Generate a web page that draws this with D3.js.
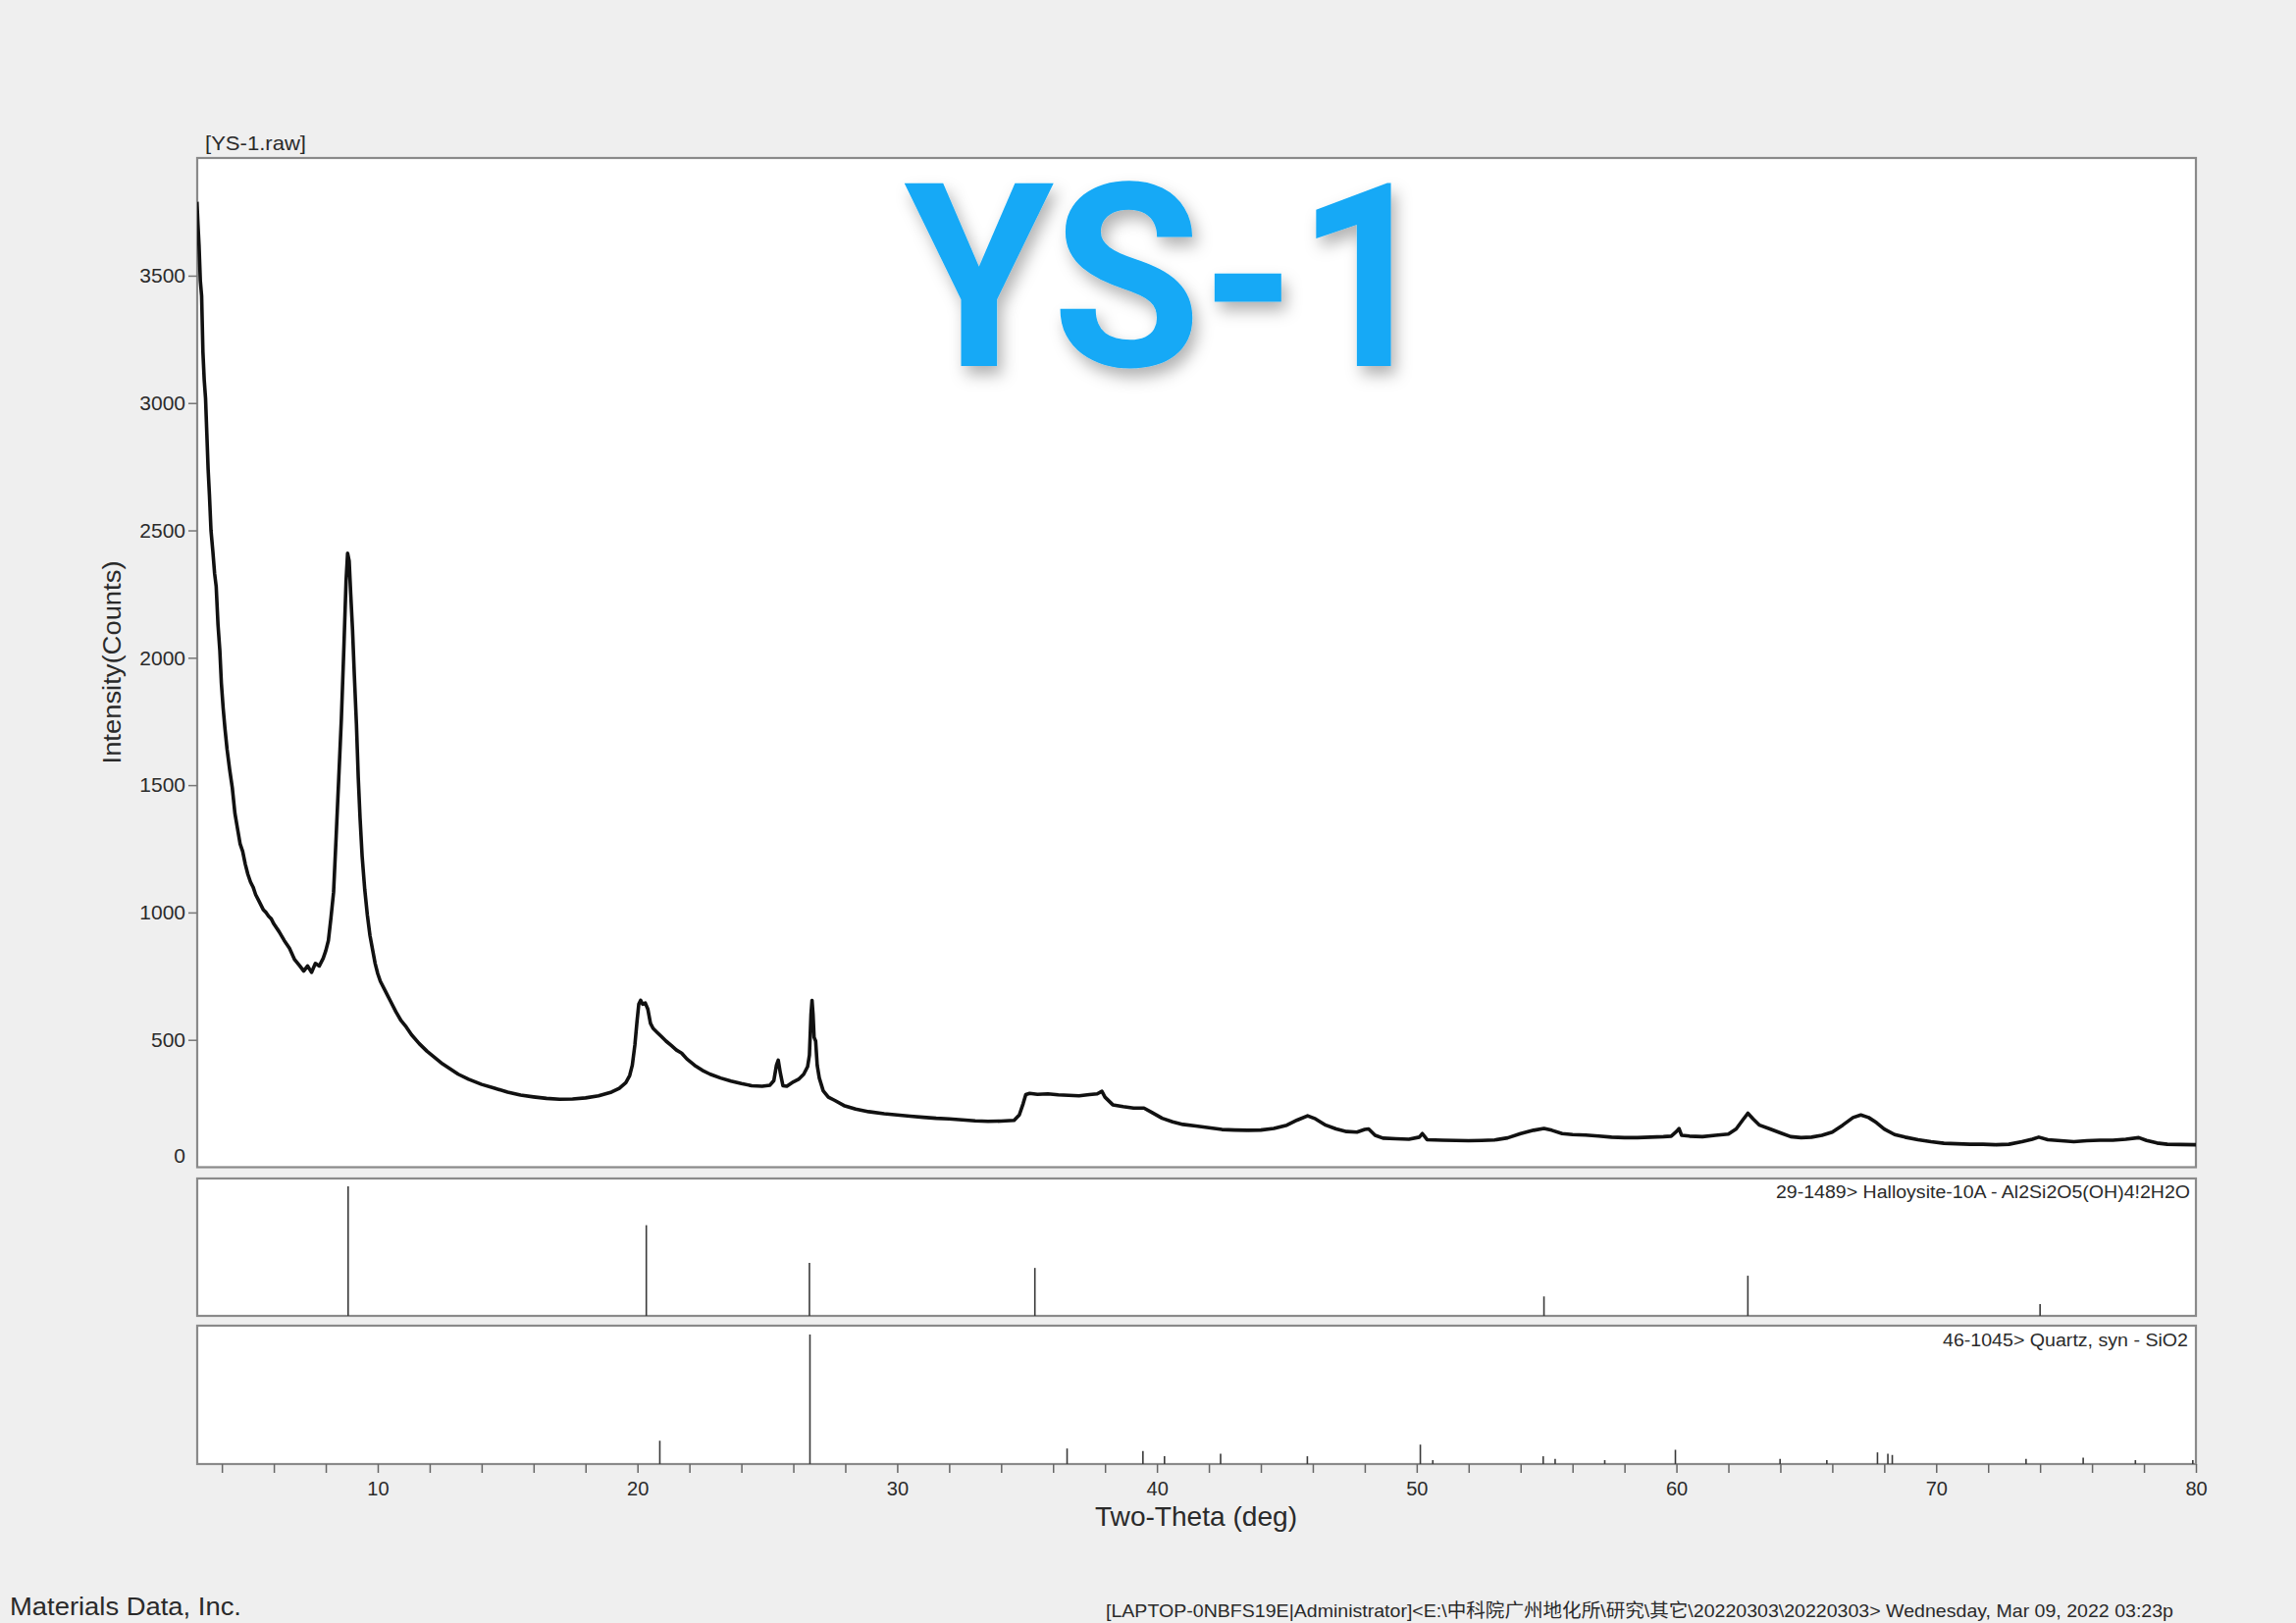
<!DOCTYPE html>
<html>
<head>
<meta charset="utf-8">
<script src="https://cdn.jsdelivr.net/npm/d3@7"></script>
<style>
  html, body { margin: 0; padding: 0; background: #efefef; }
  svg { display: block; }
  text { font-family: "Liberation Sans", Arial, "Noto Sans CJK SC", sans-serif; fill: #2a2a2a; }
</style>
</head>
<body>
<svg id="chart" width="2340" height="1654"></svg>
<script>
// ---------------- data ----------------
const scanTwoTheta = [3.04,3.08,3.12,3.17,3.22,3.27,3.32,3.37,3.42,3.47,3.52,3.58,3.65,3.72,3.78,3.85,3.92,3.98,4.05,4.12,4.2,4.3,4.4,4.5,4.6,4.7,4.8,4.9,5.0,5.1,5.2,5.3,5.4,5.5,5.6,5.7,5.8,5.9,6.0,6.2,6.4,6.6,6.8,7.0,7.15,7.3,7.45,7.6,7.75,7.9,8.0,8.1,8.2,8.3,8.4,8.5,8.6,8.7,8.78,8.84,8.9,8.96,9.03,9.1,9.18,9.25,9.32,9.4,9.5,9.6,9.7,9.8,9.9,10.0,10.1,10.3,10.5,10.7,10.9,11.1,11.3,11.6,11.9,12.2,12.5,12.8,13.1,13.5,14.0,14.5,15.0,15.5,16.0,16.5,17.0,17.5,18.0,18.5,19.0,19.3,19.55,19.7,19.8,19.9,19.98,20.05,20.12,20.2,20.3,20.4,20.5,20.6,20.75,20.9,21.1,21.3,21.5,21.7,21.9,22.2,22.5,22.8,23.2,23.6,24.0,24.4,24.8,25.1,25.25,25.35,25.42,25.5,25.6,25.75,26.0,26.2,26.4,26.55,26.62,26.68,26.72,26.76,26.8,26.86,26.92,27.0,27.15,27.35,27.6,27.95,28.4,28.9,29.5,30.0,30.5,31.0,31.5,32.0,32.5,33.0,33.5,34.0,34.5,34.7,34.85,34.95,35.1,35.4,35.8,36.2,36.6,37.0,37.4,37.7,37.88,38.0,38.3,38.7,39.1,39.5,39.8,40.2,40.6,41.0,41.5,42.0,42.5,43.0,43.5,44.0,44.5,45.0,45.4,45.8,46.1,46.5,46.9,47.3,47.7,48.0,48.15,48.4,48.7,49.2,49.7,50.1,50.22,50.4,51.0,51.5,52.0,52.5,53.0,53.5,54.0,54.5,54.9,55.2,55.6,56.0,56.5,57.0,57.5,58.0,58.5,59.0,59.5,59.8,60.0,60.1,60.2,60.5,61.0,61.5,62.0,62.3,62.55,62.75,62.95,63.2,63.6,64.0,64.4,64.8,65.2,65.6,66.0,66.4,66.8,67.1,67.4,67.7,68.0,68.4,68.8,69.3,69.8,70.3,70.8,71.3,71.8,72.3,72.8,73.3,73.7,73.95,74.3,74.8,75.3,75.8,76.3,76.8,77.3,77.8,78.1,78.5,78.9,79.4,80.0];
const scanCounts = [3790,3700,3620,3480,3420,3200,3090,3020,2880,2740,2640,2500,2420,2330,2280,2130,2030,1900,1800,1720,1640,1560,1490,1390,1330,1270,1240,1190,1150,1120,1100,1070,1050,1030,1010,1000,985,975,955,925,890,860,815,790,770,790,765,800,790,820,850,890,980,1080,1300,1530,1760,2050,2300,2410,2380,2250,2110,1930,1740,1530,1370,1220,1090,990,910,855,800,760,730,690,650,610,575,550,520,485,455,430,405,385,365,345,325,310,295,283,276,270,267,268,272,280,295,310,332,360,400,480,570,640,655,640,645,620,565,545,530,515,495,478,460,448,425,400,380,365,350,338,328,320,318,322,340,400,420,370,320,318,335,345,365,395,440,600,655,600,510,495,400,350,300,275,262,242,228,218,210,205,200,196,192,190,186,182,180,181,184,205,250,285,290,286,288,284,282,280,285,288,298,275,245,238,232,232,215,192,178,168,162,155,148,146,145,146,152,165,185,202,190,165,150,140,138,148,150,125,114,112,110,118,132,108,106,105,104,105,107,115,132,145,152,145,132,128,126,122,118,116,116,118,120,122,140,152,125,122,120,125,130,150,185,212,190,165,150,135,120,116,118,125,138,165,195,205,195,175,150,128,118,108,100,94,92,90,90,88,90,100,110,118,108,104,100,104,106,106,110,116,105,95,90,89,88];

const halloysiteLabel = "29-1489> Halloysite-10A - Al2Si2O5(OH)4!2H2O";
const halloysitePos = [8.86, 20.34, 26.62, 35.3, 54.9, 62.75, 74.0];
const halloysiteRel = [100, 70, 41, 37, 15, 31, 9];

const quartzLabel = "46-1045> Quartz, syn - SiO2";
const quartzPos = [20.86, 26.64, 36.54, 39.46, 40.29, 42.45, 45.79, 50.14, 50.62, 54.87, 55.33, 57.24, 59.96, 63.99, 65.79, 67.74, 68.14, 68.31, 73.46, 75.66, 77.67, 79.88];
const quartzRel  = [18, 100, 12, 10, 6, 8, 6, 15, 3, 6, 4, 3, 11, 4, 3, 9, 8, 7, 4, 5, 3, 3];

const yTickValues = [0, 500, 1000, 1500, 2000, 2500, 3000, 3500];
const xTickValues = d3.range(4, 81, 2);
const xTickLabels = [10, 20, 30, 40, 50, 60, 70, 80];

const sampleTitle = "YS-1";
const fileLabel = "[YS-1.raw]";
const yTitle = "Intensity(Counts)";
const xTitle = "Two-Theta (deg)";
const footerLeft = "Materials Data, Inc.";
const footerRight = "[LAPTOP-0NBFS19E|Administrator]<E:\\中科院广州地化所\\研究\\其它\\20220303\\20220303> Wednesday, Mar 09, 2022 03:23p";

// ---------------- layout ----------------
const svg = d3.select("#chart");
const L = 201, R = 2238;
const main = {top: 161, bottom: 1189.5};
const hal = {top: 1201, bottom: 1341};
const qtz = {top: 1351, bottom: 1492};

const x = d3.scaleLinear().domain([3.05, 80]).range([L, R]);
const y = d3.scaleLinear().domain([0, 3962]).range([main.bottom, main.top]);
const yH = d3.scaleLinear().domain([0, 100]).range([hal.bottom, hal.top + 8]);
const yQ = d3.scaleLinear().domain([0, 100]).range([qtz.bottom, qtz.top + 9]);

svg.append("rect").attr("width", 2340).attr("height", 1654).attr("fill", "#efefef");

const defs = svg.append("defs");
defs.append("clipPath").attr("id", "mainClip").append("rect")
  .attr("x", L).attr("y", main.top).attr("width", R - L).attr("height", main.bottom - main.top);
const f = defs.append("filter").attr("id", "shadow").attr("x", "-20%").attr("y", "-20%").attr("width", "140%").attr("height", "140%");
f.append("feDropShadow").attr("dx", 5).attr("dy", 9).attr("stdDeviation", 8)
  .attr("flood-color", "#000").attr("flood-opacity", 0.3);

// panels
function panel(p) {
  svg.append("rect").attr("x", L).attr("y", p.top).attr("width", R - L).attr("height", p.bottom - p.top)
    .attr("fill", "#ffffff").attr("stroke", "#8a8a8a").attr("stroke-width", 2.2);
}
panel(main); panel(hal); panel(qtz);

// main scan line
const line = d3.line().x((d, i) => x(scanTwoTheta[i])).y(d => y(d)).curve(d3.curveLinear);
svg.append("path").datum(scanCounts).attr("clip-path", "url(#mainClip)")
  .attr("d", line).attr("fill", "none").attr("stroke", "#111")
  .attr("stroke-width", 3.6).attr("stroke-linejoin", "round");

// y axis
const yAxis = d3.axisLeft(y).tickValues(yTickValues).tickSize(9).tickPadding(3).tickFormat(d3.format("d"));
const gy = svg.append("g").attr("transform", `translate(${L},0)`).call(yAxis);
gy.select(".domain").remove();
gy.selectAll(".tick line").attr("stroke", "#777").attr("stroke-width", 1.5);
gy.selectAll(".tick text").attr("font-size", 21).attr("fill", "#2a2a2a")
  .attr("dy", d => d === 0 ? "-0.25em" : "0.32em");
gy.selectAll(".tick").filter(d => d === 0).select("line").remove();

// sticks
svg.append("g").selectAll("line").data(halloysitePos).join("line")
  .attr("x1", d => x(d)).attr("x2", d => x(d))
  .attr("y1", hal.bottom).attr("y2", (d, i) => yH(halloysiteRel[i]))
  .attr("stroke", "#3a3a3a").attr("stroke-width", 1.6);
svg.append("g").selectAll("line").data(quartzPos).join("line")
  .attr("x1", d => x(d)).attr("x2", d => x(d))
  .attr("y1", qtz.bottom).attr("y2", (d, i) => yQ(quartzRel[i]))
  .attr("stroke", "#3a3a3a").attr("stroke-width", 1.6);

svg.append("text").attr("x", R - 6).attr("y", hal.top + 20).attr("text-anchor", "end")
  .attr("font-size", 18).attr("textLength", 422).attr("lengthAdjust", "spacingAndGlyphs").text(halloysiteLabel);
svg.append("text").attr("x", R - 8).attr("y", qtz.top + 21).attr("text-anchor", "end")
  .attr("font-size", 18).attr("textLength", 250).attr("lengthAdjust", "spacingAndGlyphs").text(quartzLabel);

// x axis
const xAxis = d3.axisBottom(x).tickValues(xTickValues).tickSize(9).tickPadding(9)
  .tickFormat(d => xTickLabels.includes(d) ? String(d) : "");
const gx = svg.append("g").attr("transform", `translate(0,${qtz.bottom})`).call(xAxis);
gx.select(".domain").remove();
gx.selectAll(".tick line").attr("stroke", "#666").attr("stroke-width", 1.5);
gx.selectAll(".tick text").attr("font-size", 20).attr("fill", "#2a2a2a");

// titles
svg.append("text").attr("x", 1219).attr("y", 1555).attr("text-anchor", "middle")
  .attr("font-size", 28).attr("textLength", 206).attr("lengthAdjust", "spacingAndGlyphs").text(xTitle);
svg.append("text").attr("transform", "translate(123,675) rotate(-90)").attr("text-anchor", "middle")
  .attr("font-size", 25).attr("textLength", 207).attr("lengthAdjust", "spacingAndGlyphs").text(yTitle);
svg.append("text").attr("x", 209).attr("y", 153).attr("font-size", 21)
  .attr("textLength", 103).attr("lengthAdjust", "spacingAndGlyphs").text(fileLabel);

// big sample title
svg.append("text").attr("x", 1192).attr("y", 373).attr("text-anchor", "middle")
  .style("font-family", "Roboto, 'Liberation Sans', sans-serif").attr("font-weight", 700)
  .attr("font-size", 262).attr("textLength", 541).attr("lengthAdjust", "spacingAndGlyphs")
  .style("fill", "#14a9f6").attr("filter", "url(#shadow)").text(sampleTitle);

// footer
svg.append("text").attr("x", 10).attr("y", 1646).attr("font-size", 26).attr("textLength", 236)
  .attr("lengthAdjust", "spacingAndGlyphs").text(footerLeft);
svg.append("text").attr("x", 1127).attr("y", 1648).attr("font-size", 19).attr("textLength", 1088)
  .attr("lengthAdjust", "spacingAndGlyphs").text(footerRight);
</script>
</body>
</html>
